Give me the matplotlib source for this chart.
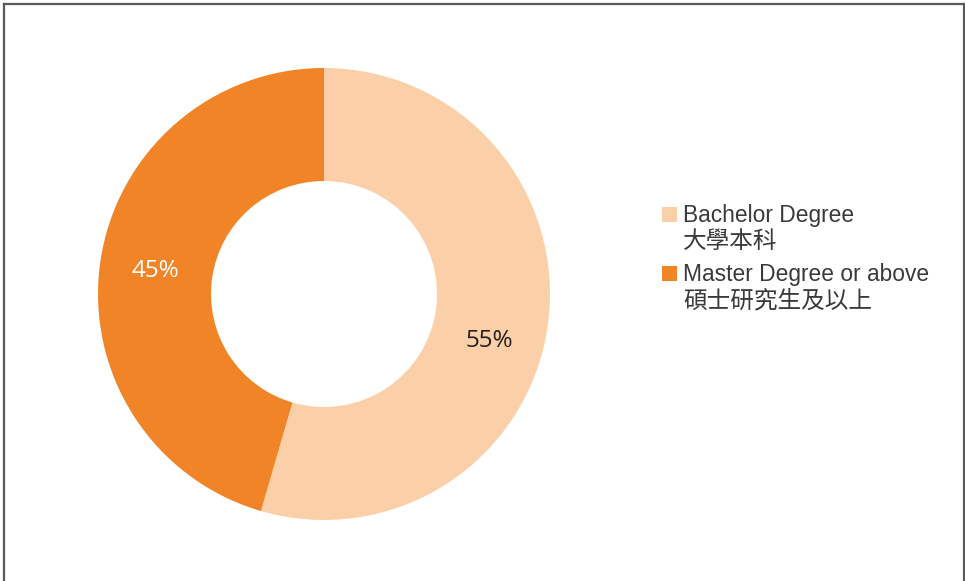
import matplotlib
matplotlib.use("Agg")
import matplotlib.pyplot as plt
from matplotlib.patches import Rectangle
from matplotlib.lines import Line2D

categories_en = ["Bachelor Degree", "Master Degree or above"]
categories_zh = ["大學本科", "碩士研究生及以上"]
values = [54.5, 45.5]
labels = ["55%", "45%"]
colors = ["#FBCFA8", "#F28428"]

W, H = 965, 581
fig = plt.figure(figsize=(W / 100, H / 100), dpi=100)

# donut
cx, cy, R = 324, 294, 226
ax = fig.add_axes([(cx - R) / W, (H - cy - R) / H, 2 * R / W, 2 * R / H])
ax.pie(values, colors=colors, startangle=90, counterclock=False,
       radius=1.0, wedgeprops=dict(width=0.5, edgecolor="none"))
ax.set_xlim(-1, 1)
ax.set_ylim(-1, 1)
ax.set_aspect("equal")
ax.axis("off")

# percentage labels
ax.text(0.730, -0.206, labels[0], ha="center", va="center", fontsize=17.5,
        color="#231F20", family=["Open Sans", "DejaVu Sans"])
ax.text(-0.745, 0.103, labels[1], ha="center", va="center", fontsize=17.5,
        color="white", family=["Open Sans", "DejaVu Sans"])

# legend (manual)
fam = ["Liberation Sans", "Noto Sans CJK TC"]
entries_y = [207, 266]
for i, y0 in enumerate(entries_y):
    fig.patches.append(Rectangle((662 / W, 1 - (y0 + 15) / H), 15 / W, 15 / H,
                                 transform=fig.transFigure, facecolor=colors[i],
                                 edgecolor="none"))
    fig.text(683 / W, 1 - (y0 + 15) / H, categories_en[i], fontsize=16.4,
             color="#3a3a3a", family=fam, va="baseline", ha="left")
    fig.text(683 / W, 1 - (y0 + 41) / H, categories_zh[i], fontsize=17,
             color="#3a3a3a", family=["Noto Sans CJK TC", "DejaVu Sans"],
             va="baseline", ha="left")

# frame border (left, top, right)
bc = "#5a5a5a"
lw = 1.6
fig.add_artist(Line2D([3.5 / W, 3.5 / W], [0, 1 - 4 / H], transform=fig.transFigure, color=bc, lw=lw))
fig.add_artist(Line2D([3.5 / W, 963.5 / W], [1 - 4 / H, 1 - 4 / H], transform=fig.transFigure, color=bc, lw=lw))
fig.add_artist(Line2D([963.5 / W, 963.5 / W], [0, 1 - 4 / H], transform=fig.transFigure, color=bc, lw=lw))

fig.savefig("out.png", dpi=100, facecolor="white")
